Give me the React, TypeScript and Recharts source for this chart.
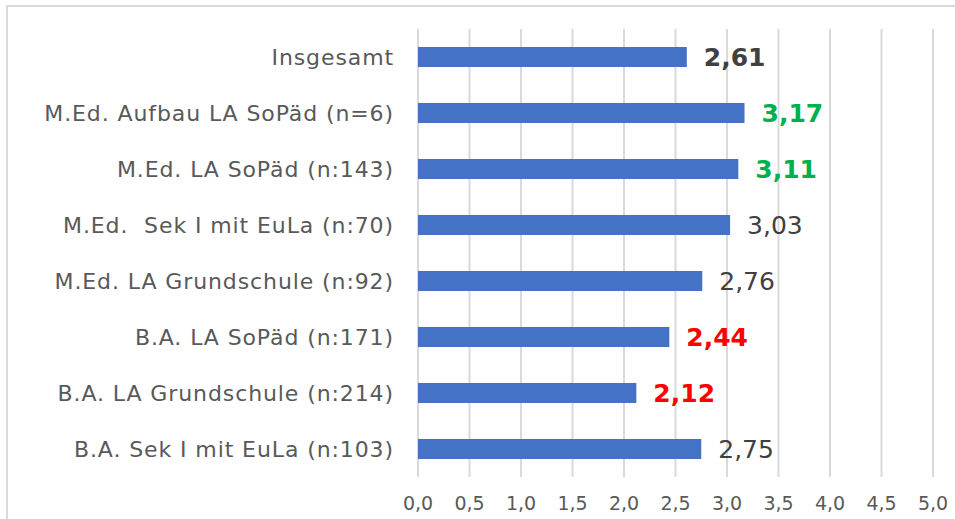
import React from "react";
import { BarChart, Bar, XAxis, YAxis, CartesianGrid, LabelList } from "recharts";

const categories = [
  "Insgesamt",
  "M.Ed. Aufbau LA SoPäd (n=6)",
  "M.Ed. LA SoPäd (n:143)",
  "M.Ed.\u00a0 Sek I mit EuLa (n:70)",
  "M.Ed. LA Grundschule (n:92)",
  "B.A. LA SoPäd (n:171)",
  "B.A. LA Grundschule (n:214)",
  "B.A. Sek I mit EuLa (n:103)",
];
const values = [2.61, 3.17, 3.11, 3.03, 2.76, 2.44, 2.12, 2.75];
const labelColors = ["#404040", "#00B050", "#00B050", "#404040", "#404040", "#FF0000", "#FF0000", "#404040"];
const labelBold = [true, true, true, false, false, true, true, false];
const xTicks = [0, 0.5, 1, 1.5, 2, 2.5, 3, 3.5, 4, 4.5, 5];

const data = categories.map((name, i) => ({
  name,
  value: values[i],
  color: labelColors[i],
  bold: labelBold[i],
}));

const FONT = "'DejaVu Sans', sans-serif";

const ValueLabel = (props: any) => {
  const { x, y, width, height, index, value } = props;
  const d = data[index];
  return (
    <text
      x={x + width + 17}
      y={y + height / 2}
      dominantBaseline="central"
      fill={d.color}
      fontWeight={d.bold ? 700 : 400}
      fontSize={25}
      fontFamily={FONT}
    >
      {Number(value).toFixed(2).replace(".", ",")}
    </text>
  );
};

export default function App() {
  return (
    <div style={{ position: "absolute", left: 0, top: 0, width: 955, height: 519, background: "#fff", overflow: "hidden" }}>
      <div
        style={{
          position: "absolute",
          left: 6,
          top: 5,
          width: 1000,
          height: 600,
          borderLeft: "2px solid #d9d9d9",
          borderTop: "2px solid #d9d9d9",
        }}
      />
      <div style={{ position: "absolute", left: 0, top: 0 }}>
        <BarChart
          width={955}
          height={519}
          data={data}
          layout="vertical"
          margin={{ top: 29, right: 22, bottom: 0, left: 0 }}
          barCategoryGap={0}
        >
          <CartesianGrid horizontal={false} stroke="#d9d9d9" strokeWidth={2} />
          <XAxis
            type="number"
            domain={[0, 5]}
            ticks={xTicks}
            axisLine={false}
            tickLine={false}
            tickSize={0}
            tickMargin={20}
            height={42}
            interval={0}
            tickFormatter={(v: number) => v.toFixed(1).replace(".", ",")}
            tick={{ fill: "#595959", fontSize: 19, fontFamily: FONT }}
          />
          <YAxis
            type="category"
            dataKey="name"
            width={418}
            axisLine={false}
            tickLine={false}
            tickSize={0}
            tickMargin={24}
            interval={0}
            tick={{ fill: "#595959", fontSize: 22, fontFamily: FONT, letterSpacing: 0.9 }}
          />
          <Bar dataKey="value" fill="#4472C4" barSize={20} isAnimationActive={false}>
            <LabelList dataKey="value" content={<ValueLabel />} />
          </Bar>
        </BarChart>
      </div>
    </div>
  );
}
